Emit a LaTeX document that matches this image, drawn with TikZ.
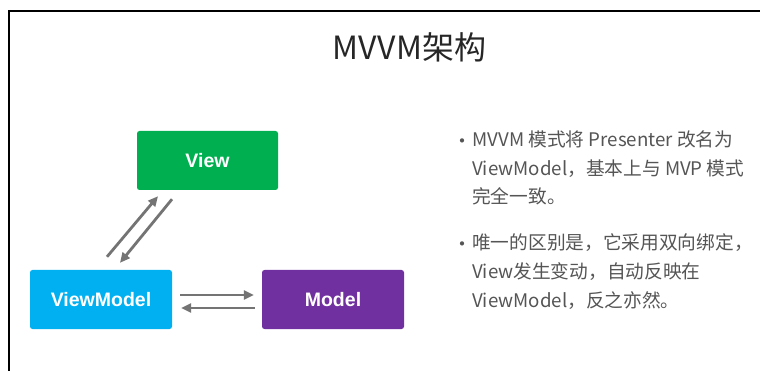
\documentclass[tikz,border=0pt]{standalone}
\usepackage{fontspec}
\setmainfont{Liberation Sans}
\newfontfamily\cjk{Noto Sans CJK SC}
\usetikzlibrary{calc,arrows.meta}
\definecolor{vgreen}{HTML}{00B050}
\definecolor{vcyan}{HTML}{00B0F0}
\definecolor{vpurple}{HTML}{7030A0}
\definecolor{arrgray}{HTML}{747474}
\definecolor{txtgray}{HTML}{555555}
\tikzset{
  box/.style={rectangle, rounded corners=2.5pt, minimum width=141pt, minimum height=59pt,
    inner sep=0pt, text=white, font=\fontsize{19.5}{22}\selectfont\bfseries},
  arr/.style={draw=arrgray, line width=2.8pt, -{Triangle[length=10pt,width=9pt]}},
  bodytext/.style={anchor=base west, inner sep=0pt, text=txtgray, font=\cjk\fontsize{18.7}{22}\selectfont},
  bullet/.style={anchor=center, inner sep=0pt, text=txtgray, font=\cjk\fontsize{20}{22}\selectfont},
}
\begin{document}
\begin{tikzpicture}[x=1pt,y=-1pt]
\useasboundingbox (0,0) rectangle (760,371);
\fill[white] (0,0) rectangle (760,371);
\draw[line width=2pt, black] (9,371) -- (9,11.5) -- (760,11.5);
\node[anchor=base, inner sep=0pt, text=black!85, font=\cjk\fontsize{32}{36}\selectfont] (title) at (409.5,60) {MVVM架构};

\node[box, fill=vgreen] (view) at (207.5,160.5) {View};
\node[box, fill=vcyan, minimum width=142pt] (vm) at (101,299.5) {ViewModel};
\node[box, fill=vpurple, minimum width=142pt] (model) at (333,299.5) {Model};

\draw[arr] ($(vm.north)+(6,-13)$) -- ($(view.south)+(-49.5,6)$);
\draw[arr] ($(view.south)+(-35.5,9)$) -- ($(vm.north)+(19,-7)$);
\draw[arr] ($(vm.east)+(8,-4.5)$) -- ($(model.west)+(-8,-4.5)$);
\draw[arr] ($(model.west)+(-7,8.5)$) -- ($(vm.east)+(9,8.5)$);

\node[bullet] (b1) at (462,144) {•};
\node[bodytext] (l1) at (472,147) {MVVM 模式将 Presenter 改名为};
\node[bodytext] (l2) at (472,175.5) {ViewModel，基本上与 MVP 模式};
\node[bodytext] (l3) at (472,204) {完全一致。};
\node[bullet] (b2) at (462,247) {•};
\node[bodytext] (l4) at (472,250) {唯一的区别是，它采用双向绑定，};
\node[bodytext] (l5) at (472,278.5) {View发生变动，自动反映在};
\node[bodytext] (l6) at (472,307) {ViewModel，反之亦然。};
\end{tikzpicture}
\end{document}
